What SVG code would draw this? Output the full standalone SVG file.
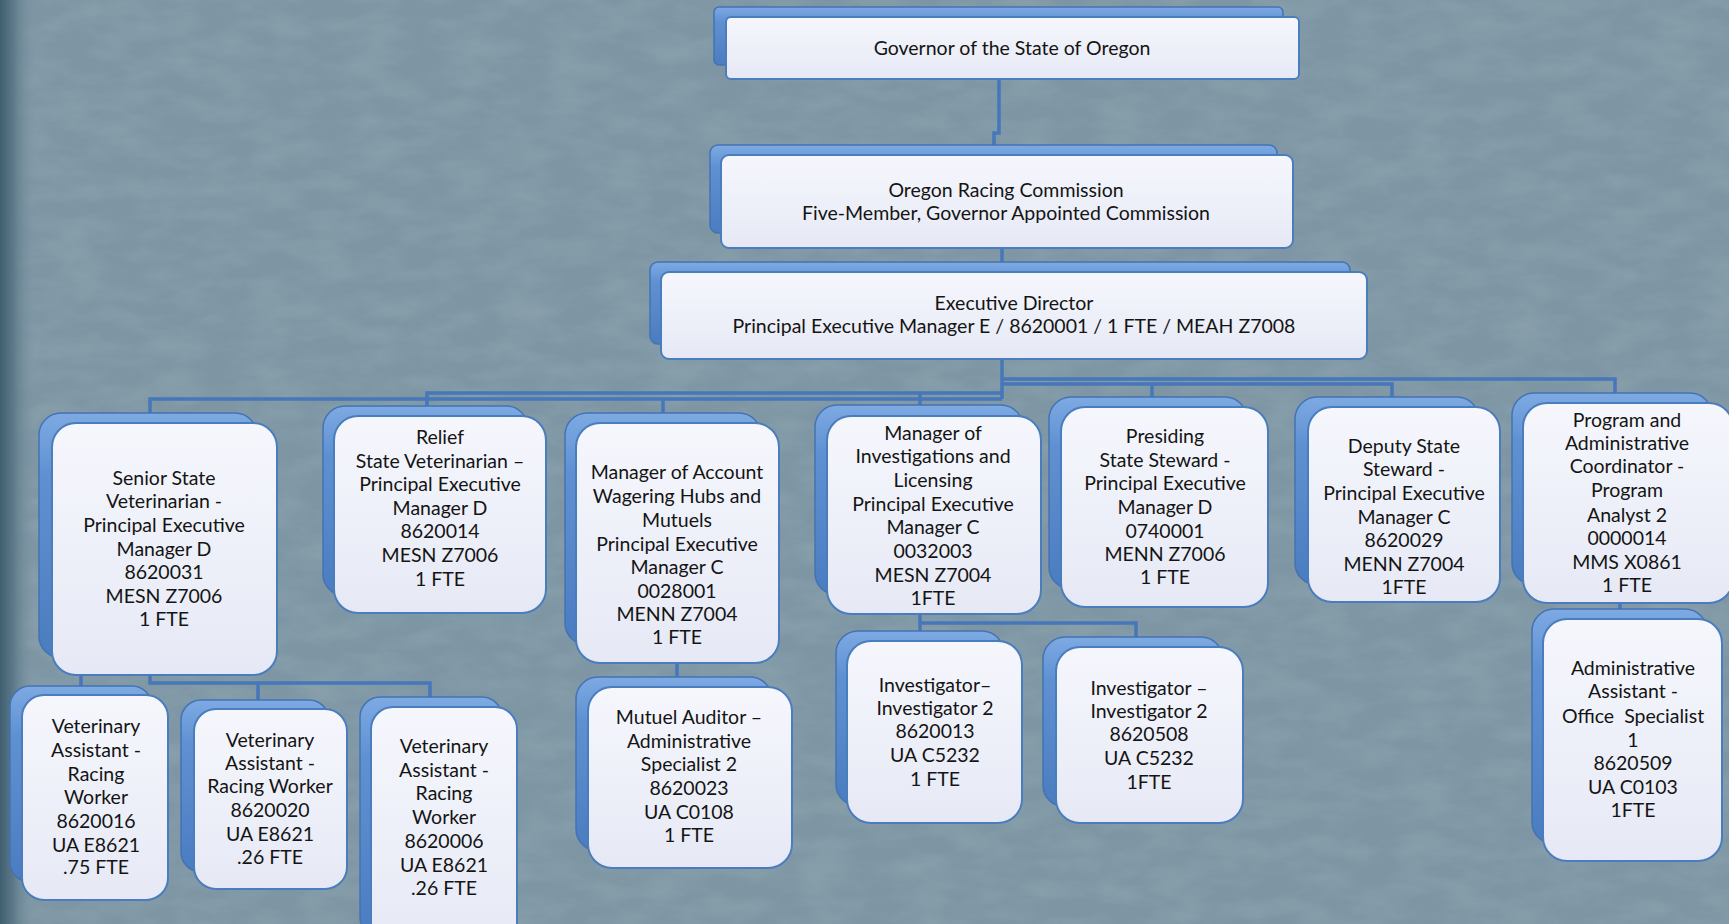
<svg xmlns="http://www.w3.org/2000/svg" width="1729" height="924" viewBox="0 0 1729 924">
<defs>
<linearGradient id="bgEdge" x1="0" y1="0" x2="1" y2="0">
<stop offset="0" stop-color="#3f5f70"/>
<stop offset="0.35" stop-color="#5b7888"/>
<stop offset="1" stop-color="#7f97a5" stop-opacity="0"/>
</linearGradient>
<linearGradient id="back" x1="0" y1="0" x2="0" y2="1">
<stop offset="0" stop-color="#7eaae3"/>
<stop offset="0.25" stop-color="#5f91d2"/>
<stop offset="1" stop-color="#4a7cc0"/>
</linearGradient>
<linearGradient id="front" x1="0" y1="0" x2="0" y2="1">
<stop offset="0" stop-color="#f6f7fd"/>
<stop offset="1" stop-color="#e6e9f5"/>
</linearGradient>
<filter id="noise" x="0" y="0" width="100%" height="100%">
<feTurbulence type="fractalNoise" baseFrequency="0.02 0.05" numOctaves="4" seed="4"/>
<feColorMatrix type="matrix" values="0 0 0 0 0.56  0 0 0 0 0.63  0 0 0 0 0.67  0 0 0 1.2 -0.4"/>
</filter>
</defs>
<style>
.bk{fill:url(#back);stroke:#4473b3;stroke-width:1.5}
.fr{fill:url(#front);stroke:#4a7dbd;stroke-width:2}
.t{font-family:Lato,"Liberation Sans",sans-serif;font-size:19.5px;fill:#141414;text-anchor:middle}
.c{fill:none;stroke:#4677bb;stroke-width:3.5;stroke-linejoin:miter}
</style>
<rect width="1729" height="924" fill="#7e96a4"/>
<rect width="1729" height="924" filter="url(#noise)" opacity="0.22"/>
<rect width="36" height="924" fill="url(#bgEdge)"/>

<g id="connectors">
<path class="c" d="M999 79V133H994V146"/>
<path class="c" d="M1002 248V263"/>
<path class="c" d="M1002 359V399"/>
<path class="c" d="M1002 379H1615V394"/>
<path class="c" d="M1002 384H1392V398"/>
<path class="c" d="M1152 384V398"/>
<path class="c" d="M1002 393H427V407"/>
<path class="c" d="M920 393V406"/>
<path class="c" d="M1002 399H150V414"/>
<path class="c" d="M663 399V414"/>
<path class="c" d="M81 675V687"/>
<path class="c" d="M150 675V683H430V698"/>
<path class="c" d="M258 683V701"/>
<path class="c" d="M677 663V678"/>
<path class="c" d="M920 614V632"/>
<path class="c" d="M920 623H1136V638"/>
<path class="c" d="M1620 603V610"/>
</g>

<g id="governor">
<rect class="bk" x="714" y="7" width="569" height="58" rx="5"/>
<rect class="fr" x="726" y="17" width="573" height="62" rx="5"/>
<text class="t" x="1012" y="55">Governor of the State of Oregon</text>
</g>

<g id="commission">
<rect class="bk" x="710" y="145" width="567" height="88" rx="8"/>
<rect class="fr" x="721" y="155" width="572" height="93" rx="8"/>
<text class="t" x="1006" y="197">Oregon Racing Commission</text>
<text class="t" x="1006" y="220">Five-Member, Governor Appointed Commission</text>
</g>

<g id="executive-director">
<rect class="bk" x="650" y="262" width="700" height="82" rx="8"/>
<rect class="fr" x="661" y="272" width="706" height="87" rx="8"/>
<text class="t" x="1014" y="310">Executive Director</text>
<text class="t" x="1014" y="333">Principal Executive Manager E / 8620001 / 1 FTE / MEAH Z7008</text>
</g>

<g id="senior-vet">
<rect class="bk" x="39" y="413" width="218" height="245" rx="22"/>
<rect class="fr" x="52" y="423" width="225" height="252" rx="24"/>
<text class="t" x="164" y="485">Senior State</text>
<text class="t" x="164" y="508">Veterinarian -</text>
<text class="t" x="164" y="532">Principal Executive</text>
<text class="t" x="164" y="556">Manager D</text>
<text class="t" x="164" y="579">8620031</text>
<text class="t" x="164" y="603">MESN Z7006</text>
<text class="t" x="164" y="626">1 FTE</text>
</g>

<g id="relief-vet">
<rect class="bk" x="323" y="406" width="205" height="190" rx="22"/>
<rect class="fr" x="334" y="416" width="212" height="197" rx="24"/>
<text class="t" x="440" y="444">Relief</text>
<text class="t" x="440" y="468">State Veterinarian –</text>
<text class="t" x="440" y="491">Principal Executive</text>
<text class="t" x="440" y="515">Manager D</text>
<text class="t" x="440" y="538">8620014</text>
<text class="t" x="440" y="562">MESN Z7006</text>
<text class="t" x="440" y="586">1 FTE</text>
</g>

<g id="account-wagering">
<rect class="bk" x="565" y="413" width="196" height="232" rx="22"/>
<rect class="fr" x="576" y="423" width="203" height="240" rx="24"/>
<text class="t" x="677" y="479">Manager of Account</text>
<text class="t" x="677" y="503">Wagering Hubs and</text>
<text class="t" x="677" y="527">Mutuels</text>
<text class="t" x="677" y="551">Principal Executive</text>
<text class="t" x="677" y="574">Manager C</text>
<text class="t" x="677" y="598">0028001</text>
<text class="t" x="677" y="621">MENN Z7004</text>
<text class="t" x="677" y="644">1 FTE</text>
</g>

<g id="investigations-manager">
<rect class="bk" x="815" y="405" width="208" height="190" rx="22"/>
<rect class="fr" x="827" y="416" width="214" height="198" rx="24"/>
<text class="t" x="933" y="440">Manager of</text>
<text class="t" x="933" y="463">Investigations and</text>
<text class="t" x="933" y="487">Licensing</text>
<text class="t" x="933" y="511">Principal Executive</text>
<text class="t" x="933" y="534">Manager C</text>
<text class="t" x="933" y="558">0032003</text>
<text class="t" x="933" y="582">MESN Z7004</text>
<text class="t" x="933" y="605">1FTE</text>
</g>

<g id="presiding-steward">
<rect class="bk" x="1049" y="397" width="198" height="192" rx="22"/>
<rect class="fr" x="1061" y="407" width="207" height="200" rx="24"/>
<text class="t" x="1165" y="443">Presiding</text>
<text class="t" x="1165" y="467">State Steward -</text>
<text class="t" x="1165" y="490">Principal Executive</text>
<text class="t" x="1165" y="514">Manager D</text>
<text class="t" x="1165" y="538">0740001</text>
<text class="t" x="1165" y="561">MENN Z7006</text>
<text class="t" x="1165" y="584">1 FTE</text>
</g>

<g id="deputy-steward">
<rect class="bk" x="1295" y="397" width="184" height="188" rx="22"/>
<rect class="fr" x="1308" y="407" width="192" height="195" rx="24"/>
<text class="t" x="1404" y="453">Deputy State</text>
<text class="t" x="1404" y="476">Steward -</text>
<text class="t" x="1404" y="500">Principal Executive</text>
<text class="t" x="1404" y="524">Manager C</text>
<text class="t" x="1404" y="547">8620029</text>
<text class="t" x="1404" y="571">MENN Z7004</text>
<text class="t" x="1404" y="594">1FTE</text>
</g>

<g id="program-coordinator">
<rect class="bk" x="1512" y="393" width="200" height="192" rx="22"/>
<rect class="fr" x="1523" y="403" width="210" height="200" rx="24"/>
<text class="t" x="1627" y="427">Program and</text>
<text class="t" x="1627" y="450">Administrative</text>
<text class="t" x="1627" y="473">Coordinator -</text>
<text class="t" x="1627" y="497">Program</text>
<text class="t" x="1627" y="522">Analyst 2</text>
<text class="t" x="1627" y="545">0000014</text>
<text class="t" x="1627" y="569">MMS X0861</text>
<text class="t" x="1627" y="592">1 FTE</text>
</g>

<g id="vet-assistant-1">
<rect class="bk" x="10" y="686" width="142" height="196" rx="20"/>
<rect class="fr" x="22" y="695" width="146" height="205" rx="22"/>
<text class="t" x="96" y="733">Veterinary</text>
<text class="t" x="96" y="757">Assistant -</text>
<text class="t" x="96" y="781">Racing</text>
<text class="t" x="96" y="804">Worker</text>
<text class="t" x="96" y="828">8620016</text>
<text class="t" x="96" y="852">UA E8621</text>
<text class="t" x="96" y="874">.75 FTE</text>
</g>

<g id="vet-assistant-2">
<rect class="bk" x="181" y="700" width="148" height="172" rx="20"/>
<rect class="fr" x="194" y="709" width="153" height="180" rx="22"/>
<text class="t" x="270" y="747">Veterinary</text>
<text class="t" x="270" y="770">Assistant -</text>
<text class="t" x="270" y="793">Racing Worker</text>
<text class="t" x="270" y="817">8620020</text>
<text class="t" x="270" y="841">UA E8621</text>
<text class="t" x="270" y="864">.26 FTE</text>
</g>

<g id="vet-assistant-3">
<rect class="bk" x="360" y="697" width="142" height="240" rx="20"/>
<rect class="fr" x="371" y="707" width="146" height="240" rx="22"/>
<text class="t" x="444" y="753">Veterinary</text>
<text class="t" x="444" y="777">Assistant -</text>
<text class="t" x="444" y="800">Racing</text>
<text class="t" x="444" y="824">Worker</text>
<text class="t" x="444" y="848">8620006</text>
<text class="t" x="444" y="872">UA E8621</text>
<text class="t" x="444" y="895">.26 FTE</text>
</g>

<g id="mutuel-auditor">
<rect class="bk" x="576" y="677" width="196" height="174" rx="22"/>
<rect class="fr" x="588" y="687" width="204" height="181" rx="24"/>
<text class="t" x="689" y="724">Mutuel Auditor –</text>
<text class="t" x="689" y="748">Administrative</text>
<text class="t" x="689" y="771">Specialist 2</text>
<text class="t" x="689" y="795">8620023</text>
<text class="t" x="689" y="819">UA C0108</text>
<text class="t" x="689" y="842">1 FTE</text>
</g>

<g id="investigator-1">
<rect class="bk" x="836" y="631" width="168" height="175" rx="22"/>
<rect class="fr" x="847" y="641" width="175" height="182" rx="24"/>
<text class="t" x="935" y="692">Investigator–</text>
<text class="t" x="935" y="715">Investigator 2</text>
<text class="t" x="935" y="738">8620013</text>
<text class="t" x="935" y="762">UA C5232</text>
<text class="t" x="935" y="786">1 FTE</text>
</g>

<g id="investigator-2">
<rect class="bk" x="1043" y="637" width="180" height="170" rx="22"/>
<rect class="fr" x="1056" y="647" width="187" height="176" rx="24"/>
<text class="t" x="1149" y="695">Investigator –</text>
<text class="t" x="1149" y="718">Investigator 2</text>
<text class="t" x="1149" y="741">8620508</text>
<text class="t" x="1149" y="765">UA C5232</text>
<text class="t" x="1149" y="789">1FTE</text>
</g>

<g id="admin-assistant">
<rect class="bk" x="1532" y="609" width="175" height="235" rx="22"/>
<rect class="fr" x="1543" y="619" width="179" height="242" rx="24"/>
<text class="t" x="1633" y="675">Administrative</text>
<text class="t" x="1633" y="698">Assistant -</text>
<text class="t" x="1633" y="723" xml:space="preserve">Office  Specialist</text>
<text class="t" x="1633" y="747">1</text>
<text class="t" x="1633" y="770">8620509</text>
<text class="t" x="1633" y="794">UA C0103</text>
<text class="t" x="1633" y="817">1FTE</text>
</g>
</svg>
